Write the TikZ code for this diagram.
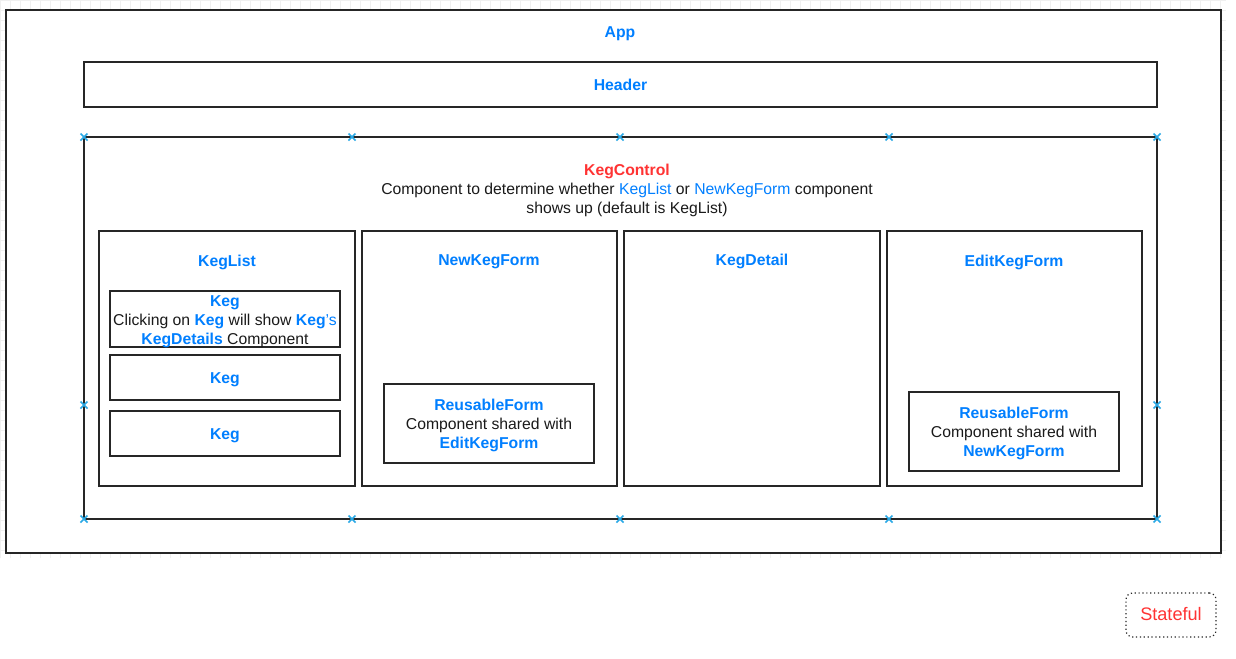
\documentclass[tikz,border=0pt]{standalone}
\usepackage{fontspec}
\setmainfont{Liberation Sans}
\usetikzlibrary{fit}
\definecolor{kblue}{HTML}{007FFF}
\definecolor{kred}{HTML}{FF3333}
\definecolor{ktext}{HTML}{1A1A1A}
\definecolor{kline}{HTML}{262626}
\definecolor{kx}{HTML}{29A9E6}
\definecolor{kgrid}{HTML}{F0F0F0}
\newcommand{\bl}[1]{\textcolor{kblue}{\bfseries #1}}
\newcommand{\blr}[1]{\textcolor{kblue}{#1}}
\tikzset{
  box/.style={draw=kline, line width=1.2pt, fill=white, inner sep=0pt},
  txt/.style={font=\fontsize{11.8pt}{14.25pt}\selectfont, text=ktext, align=center, inner sep=0pt, yshift=-1.6pt},
  ttl/.style={txt, font=\fontsize{11.8pt}{14.25pt}\selectfont\bfseries, text=kblue},
  xmark/.style={draw=kx, line width=1.2pt},
}
\begin{document}
\begin{tikzpicture}[x=0.75pt,y=-0.75pt]
\useasboundingbox (0,0) rectangle (1236,658);
\fill[white] (0,0) rectangle (1236,658);
% faint grid
\draw[kgrid, line width=0.4pt, step=7.5pt] (0,0) grid (1226,558);
% App
\node[box, fit={(6,10)(1221,553)}] (app) {};
\node[ttl] (appt) at (620,32) {App};
% Header
\node[box, fit={(84,62)(1157,107)}] (header) {};
\node[ttl, yshift=1.5pt] at (header.center) {Header};
% KegControl
\node[box, fit={(84,137)(1157,519)}] (kc) {};
\node[txt, anchor=north] (kct) at (627,161.8) {\textcolor{kred}{\bfseries KegControl}\\
Component to determine whether \blr{KegList} or \blr{NewKegForm} component\\
shows up (default is KegList)};
% Columns
\node[box, fit={(99,231)(355,486)}] (keglist) {};
\node[ttl] at (227,260) {KegList};
\node[box, fit={(362,231)(617,486)}] (newkeg) {};
\node[ttl] at (489,260) {NewKegForm};
\node[box, fit={(624,231)(880,486)}] (detail) {};
\node[ttl] at (752,259.5) {KegDetail};
\node[box, fit={(887,231)(1142,486)}] (editkeg) {};
\node[ttl] at (1014,260) {EditKegForm};
% Kegs
\node[box, fit={(110,291)(340,347)}] (keg1) {};
\node[txt, yshift=-0.8pt] at (keg1.center) {\bl{Keg}\\Clicking on \bl{Keg} will show \bl{Keg}\blr{'s}\\\bl{KegDetails} Component};
\node[box, fit={(110,355)(340,400)}] (keg2) {};
\node[ttl] at (keg2.center) {Keg};
\node[box, fit={(110,411)(340,456)}] (keg3) {};
\node[ttl] at (keg3.center) {Keg};
% Reusable forms
\node[box, fit={(384,384)(594,463)}] (rf1) {};
\node[txt] at (rf1.center) {\bl{ReusableForm}\\Component shared with\\\bl{EditKegForm}};
\node[box, fit={(909,392)(1119,471)}] (rf2) {};
\node[txt] at (rf2.center) {\bl{ReusableForm}\\Component shared with\\\bl{NewKegForm}};
% connection markers
\foreach \p in {(84,137),(352,137),(620,137),(889,137),(1157,137),
                (84,519),(352,519),(620,519),(889,519),(1157,519),
                (84,405),(1157,405)}
  \draw[xmark] \p +(-3.5,-3.5) -- +(3.5,3.5) \p +(-3.5,3.5) -- +(3.5,-3.5);
% Stateful legend
\node[draw=kline, dotted, line width=0.9pt, rounded corners=5pt, fit={(1126,593)(1216,637)}, inner sep=0pt] (legend) {};
\node[txt, text=kred, font=\fontsize{13.6pt}{16pt}\selectfont, yshift=2pt] at (legend.center) {Stateful};
\end{tikzpicture}
\end{document}
